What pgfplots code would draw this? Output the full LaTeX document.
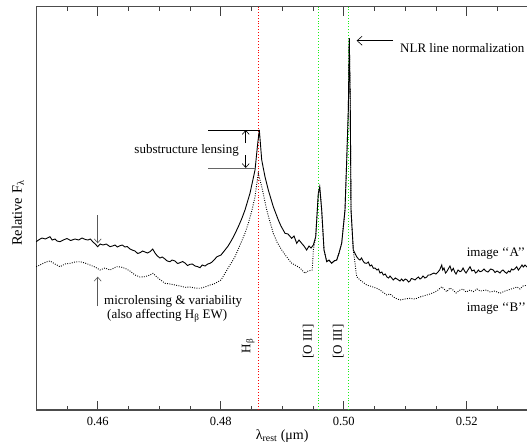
\documentclass[border=0pt]{standalone}
\usepackage{pgfplots}
\pgfplotsset{compat=1.18}
\usepackage{fontspec}
\setmainfont{Liberation Serif}
\usetikzlibrary{arrows.meta}
\definecolor{oiii}{rgb}{0.1,0.95,0.1}
\begin{document}
\fontsize{13}{15}\selectfont
\begin{tikzpicture}
\begin{axis}[
  name=ax,
  scale only axis,
  width=492pt, height=403.3pt,
  xmin=0.45, xmax=0.53, ymin=0, ymax=403.3,
  axis line style={line width=1.1pt, black!70},
  ytick=\empty,
  xtick={0.46,0.48,0.50,0.52},
  xtick pos=both,
  minor xtick={0.455,0.465,0.47,0.475,0.485,0.49,0.495,0.505,0.51,0.515,0.525},
  tick align=inside,
  major tick length=9pt, minor tick length=4.5pt,
  major tick style={line width=0.9pt, black!75},
  minor tick style={line width=0.9pt, black!75},
  /pgf/number format/fixed,
  /pgf/number format/fixed zerofill,
  /pgf/number format/precision=2,
  /pgf/number format/assume math mode=true,
  xticklabel style={yshift=-3pt},
  every tick label/.append style={font=\fontsize{12.5}{15}\selectfont},
  xlabel={λ\textsubscript{rest} (μm)},
  ylabel={Relative F\textsubscript{λ}},
  xlabel style={at={(axis description cs:0.5,0)}, anchor=center, yshift=-26pt, font=\fontsize{14}{16}\selectfont},
  ylabel style={at={(axis description cs:-0.037,0.488)}, anchor=center, font=\fontsize{14.5}{16}\selectfont},
  clip=false,
]
% vertical line markers
\draw[red, line width=0.7pt, dash pattern=on 0.9pt off 2pt] (axis cs:0.4861,0) -- (axis cs:0.4861,403.3);
\draw[oiii, line width=0.7pt, dash pattern=on 0.9pt off 2pt] (axis cs:0.4959,0) -- (axis cs:0.4959,403.3);
\draw[oiii, line width=0.7pt, dash pattern=on 0.9pt off 2pt] (axis cs:0.5007,0) -- (axis cs:0.5007,403.3);

% image A (solid)
\addplot[black, line width=0.9pt] coordinates {
(0.45000,168.3)(0.45050,170.5)(0.45094,172)(0.45150,171)(0.45224,173.3)(0.45260,170)(0.45306,171)(0.45340,169)(0.45387,168.3)(0.45440,170)(0.45501,171.5)
(0.45560,169.5)(0.45631,171)(0.45690,170)(0.45745,172)(0.45800,170.5)(0.45842,170)(0.45880,171)(0.45924,168)(0.45960,166)(0.46000,163.3)(0.46040,166)(0.46086,165)
(0.46140,166)(0.46200,163.3)(0.46240,164)(0.46281,165)(0.46320,163)(0.46363,164.3)(0.46400,165)(0.46444,163)(0.46480,163.5)(0.46525,161)(0.46560,160)(0.46607,159)
(0.46650,156.5)(0.46688,157.3)(0.46730,159)(0.46769,158)(0.46810,157)(0.46850,158.3)(0.46894,161)(0.46932,157)(0.46970,154)(0.47013,152)(0.47050,153)
(0.47094,151)(0.47130,149)(0.47176,148.3)(0.47210,150)(0.47257,149)(0.47300,146.5)(0.47338,147.3)(0.47380,148.5)(0.47420,147)(0.47460,144.5)(0.47501,145.7)
(0.47540,146)(0.47582,144)(0.47620,143.5)(0.47663,142.3)(0.47700,145)(0.47745,144)(0.47790,146)(0.47826,146.7)(0.47860,148)(0.47891,150)(0.47940,153.3)
(0.48005,155)(0.48070,160)(0.48120,164)(0.48179,170)(0.48230,176)(0.48286,183.3)(0.48340,191)(0.48395,200)(0.48476,216.7)
(0.48558,240)(0.48602,266.7)(0.48628,280)(0.48667,250)(0.48720,233.3)(0.48774,220)
(0.48855,203.3)(0.48937,190)(0.48980,184)(0.49046,176.7)(0.49094,176)(0.49154,171.7)
(0.49192,174)(0.49236,166.7)(0.49273,170)(0.49317,166.7)(0.49354,164)(0.49398,160)
(0.49436,164)(0.49470,162)(0.49506,165)(0.49545,173.3)(0.49587,216.7)(0.49610,223.3)(0.49642,200)
(0.49680,160)(0.49724,148.3)(0.49761,150)(0.49805,146.7)(0.49842,149)(0.49886,150)
(0.49924,157)(0.49967,166.7)(0.50021,200)(0.50049,250)(0.50075,300)(0.50091,371.7)
(0.50106,310)(0.50119,200)(0.50156,160)(0.50211,153.3)(0.50240,151)(0.50265,150)(0.50290,152)(0.50314,149)
(0.50340,147)(0.50374,146.7)(0.50400,148)(0.50428,144)(0.50455,145)(0.50481,141.7)(0.50510,142)(0.50541,140)(0.50565,141)(0.50590,137)(0.50620,138)(0.50644,135)
(0.50675,136)(0.50704,133)(0.50730,132)(0.50753,134)(0.50780,132)(0.50807,130)(0.50840,132)(0.50867,131)(0.50890,130)(0.50915,129)(0.50940,131)(0.50969,129)
(0.51000,131)(0.51029,130)(0.51055,128)(0.51078,129)(0.51100,131.5)(0.51127,131)(0.51160,130)(0.51187,131.7)(0.51215,133)(0.51241,131)(0.51265,132)(0.51289,134)
(0.51320,132)(0.51350,133)(0.51375,135)(0.51403,135)(0.51435,136)(0.51468,137)(0.51500,136)(0.51533,138)(0.51560,140)(0.51594,145)(0.51610,140)(0.51631,142)
(0.51655,137)(0.51675,138.3)(0.51700,141)(0.51728,144)(0.51755,139)(0.51782,141.7)(0.51805,138)(0.51826,136)(0.51860,140)(0.51891,138.3)(0.51915,139)(0.51940,142)
(0.51965,139)(0.51989,137)(0.52020,140)(0.52054,143.3)(0.52085,139)(0.52119,140)(0.52145,137)(0.52167,138)(0.52190,140)(0.52216,138.3)(0.52250,139)(0.52281,141)
(0.52310,139)(0.52346,138)(0.52390,141)(0.52432,140)(0.52460,137.5)(0.52493,139)(0.52520,138)(0.52541,137)(0.52565,139)(0.52590,140)(0.52620,138)(0.52650,136.7)
(0.52680,139)(0.52704,138)(0.52730,141)(0.52753,140)(0.52780,141)(0.52813,143.3)(0.52840,140)(0.52867,142)(0.52899,145)(0.52920,143)(0.52948,145)
(0.53000,142)
};

% image B (dotted)
\addplot[black, line width=0.9pt, dash pattern=on 0.9pt off 1.4pt] coordinates {
(0.45000,143.3)(0.45094,146)(0.45159,148)(0.45224,149)(0.45306,146)(0.45387,143.3)
(0.45468,146)(0.45550,146.7)(0.45631,148)(0.45712,148.3)(0.45794,147)(0.45875,145)
(0.45956,143)(0.46037,140)(0.46119,142)(0.46200,140)(0.46265,142)(0.46314,143.3)
(0.46379,143)(0.46444,141.7)(0.46525,139)(0.46607,135)(0.46688,133)(0.46769,133.3)
(0.46850,135)(0.46899,136.7)(0.46980,132)(0.47094,126.7)(0.47176,126)(0.47257,125)
(0.47338,124)(0.47420,122.7)(0.47501,123)(0.47582,122)(0.47663,121.7)(0.47745,123)
(0.47826,125)(0.47891,126)(0.47956,128.3)(0.48005,130)(0.48070,136.7)(0.48151,145)
(0.48233,153.3)(0.48314,165)(0.48395,176.7)(0.48449,186.7)(0.48509,200)(0.48558,213.3)
(0.48611,236.7)(0.48667,223.3)(0.48748,200)(0.48802,188)(0.48855,176.7)(0.48915,168)
(0.48992,160)(0.49062,154)(0.49154,146.7)(0.49208,145)(0.49289,142)(0.49371,136.7)
(0.49420,139)(0.49489,140)(0.49506,160)(0.49545,173.3)(0.49587,216.7)(0.49610,223.3)
(0.49642,200)(0.49680,160)(0.49724,148.3)(0.49761,150)(0.49805,146.7)(0.49842,149)
(0.49886,150)(0.49924,157)(0.49967,166.7)(0.50021,200)(0.50049,250)(0.50075,300)
(0.50091,371.7)(0.50106,310)(0.50119,200)(0.50156,160)(0.50184,146.7)(0.50211,133.3)
(0.50265,130)(0.50374,125)(0.50428,124)(0.50537,121.7)(0.50590,120)(0.50699,115)
(0.50753,116)(0.50834,112)(0.50915,110)(0.50997,111)(0.51078,111.7)(0.51159,111)
(0.51241,113)(0.51350,115)(0.51403,116)(0.51485,118)(0.51533,120)(0.51594,123.3)
(0.51631,121)(0.51675,118.3)(0.51728,122)(0.51777,120)(0.51826,117)(0.51891,120)
(0.51940,121)(0.51989,118)(0.52054,120)(0.52107,118.3)(0.52167,121)(0.52216,119)
(0.52325,120)(0.52379,118)(0.52460,119)(0.52541,116.7)(0.52623,119)(0.52672,120)
(0.52758,121.7)(0.52818,123)(0.52867,121)(0.52916,124)(0.53000,125)
};

% substructure lensing annotation
\draw[black, line width=0.8pt] (axis cs:0.47794,280) -- (axis cs:0.4862,280);
\draw[black!60, line width=0.8pt] (axis cs:0.47794,242) -- (axis cs:0.4855,242);
\draw[line width=0.6pt, -{Straight Barb[length=4pt,width=7pt]}] (axis cs:0.48407,267) -- (axis cs:0.48407,280);
\draw[line width=0.6pt, -{Straight Barb[length=4pt,width=7pt]}] (axis cs:0.48407,255) -- (axis cs:0.48407,242);
\node[anchor=center, inner sep=0pt] at (axis cs:0.47446,260) {substructure lensing};

% NLR normalization
\draw[line width=0.6pt, -{Straight Barb[length=5pt,width=9pt]}] (axis cs:0.50802,369.3) -- (axis cs:0.50211,369.3);
\node[anchor=west, inner sep=0pt] at (axis cs:0.50915,362) {NLR line normalization};

% microlensing & variability
\draw[black!65, line width=0.6pt, -{Straight Barb[length=4pt,width=7pt]}] (axis cs:0.46,195) -- (axis cs:0.46,166.7);
\draw[black!65, line width=0.6pt, -{Straight Barb[length=4pt,width=7pt]}] (axis cs:0.46,104) -- (axis cs:0.46,133.3);
\node[anchor=west, inner sep=0pt] at (axis cs:0.46102,108.3) {microlensing \& variability};
\node[anchor=west, inner sep=0pt] at (axis cs:0.46151,94) {(also affecting H\textsubscript{β} EW)};

% line labels
\node[rotate=90, inner sep=0pt] at (axis cs:0.48449,64) {H\textsubscript{β}};
\node[rotate=90, inner sep=0pt] at (axis cs:0.49424,68.3) {[O III]};
\node[rotate=90, inner sep=0pt] at (axis cs:0.49912,68.3) {[O III]};

% image labels
\node[anchor=west, inner sep=0pt] at (axis cs:0.51999,156.7) {image {`}{`}A{'}{'}};
\node[anchor=west, inner sep=0pt] at (axis cs:0.51999,101.7) {image {`}{`}B{'}{'}};
\end{axis}
\pgfresetboundingbox
\path[use as bounding box] ([xshift=-36.2pt,yshift=-35pt]ax.south west) rectangle ([xshift=-1.2pt,yshift=6.7pt]ax.north east);
\end{tikzpicture}
\end{document}
